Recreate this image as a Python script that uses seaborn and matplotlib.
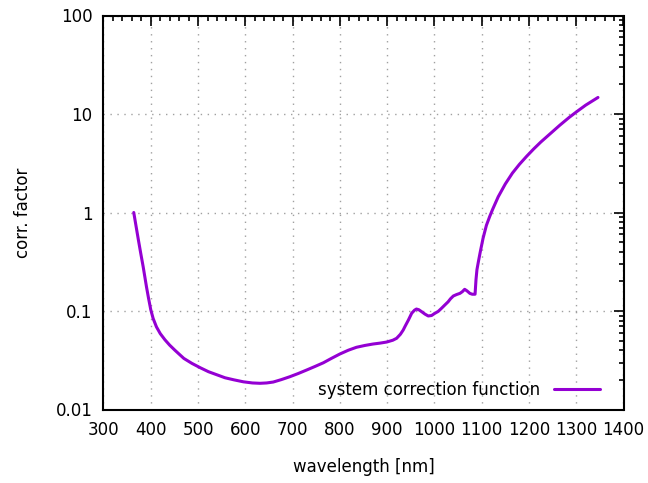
import matplotlib
matplotlib.use("Agg")
import matplotlib.pyplot as plt
import seaborn as sns
import pandas as pd
from matplotlib.ticker import MultipleLocator, LogLocator, FixedLocator, FuncFormatter, NullFormatter

wavelength = [364, 369, 374, 379, 384, 391, 395, 400, 405, 412, 420, 430, 440, 451, 460, 470,
              487, 505, 522, 540, 557, 576, 596, 615, 631, 645, 659, 676, 694, 712, 730, 747,
              765, 782, 800, 818, 835, 853, 870, 885, 899, 912, 920, 928, 934, 938, 945, 952,
              958, 962, 967, 973, 980, 987, 994, 1001, 1008, 1015, 1022, 1029, 1034, 1040, 1047,
              1054, 1059, 1064, 1069, 1075, 1080, 1086, 1088, 1090, 1093, 1097, 1103, 1110, 1117,
              1123, 1135, 1150, 1165, 1180, 1195, 1210, 1225, 1245, 1265, 1285, 1300, 1320, 1346]
corr_factor = [1.0, 0.72, 0.52, 0.38, 0.28, 0.175, 0.137, 0.103, 0.084, 0.069, 0.059, 0.051,
               0.045, 0.040, 0.0365, 0.033, 0.0294, 0.0265, 0.0242, 0.0225, 0.0210, 0.0200,
               0.0191, 0.0186, 0.01845, 0.0186, 0.0190, 0.0201, 0.0215, 0.0232, 0.0252, 0.0273,
               0.0298, 0.0330, 0.0366, 0.0400, 0.0428, 0.0447, 0.0462, 0.0472, 0.0484, 0.0505,
               0.0528, 0.058, 0.0641, 0.070, 0.081, 0.095, 0.102, 0.1047, 0.103, 0.0984, 0.093,
               0.089, 0.090, 0.0948, 0.099, 0.1065, 0.115, 0.124, 0.133, 0.142, 0.147, 0.151,
               0.157, 0.166, 0.160, 0.151, 0.148, 0.148, 0.209, 0.263, 0.316, 0.398, 0.550,
               0.741, 0.912, 1.072, 1.445, 1.950, 2.512, 3.090, 3.715, 4.416, 5.188, 6.31,
               7.674, 9.226, 10.47, 12.30, 14.72]
series_name = "system correction function"
x_ticks = [300, 400, 500, 600, 700, 800, 900, 1000, 1100, 1200, 1300, 1400]
y_ticks = [0.01, 0.1, 1, 10, 100]
y_tick_labels = ["0.01", "0.1", "1", "10", "100"]

df = pd.DataFrame({"wavelength": wavelength, "corr": corr_factor, "series": series_name})

sns.set_style("white")
plt.rcParams["font.family"] = ["DejaVu Sans"]
plt.rcParams["text.color"] = "black"
plt.rcParams["axes.labelcolor"] = "black"

fig = plt.figure(figsize=(6.48, 4.83), dpi=100)
ax = fig.add_axes([103.5 / 648, 1 - 409.5 / 483, 520 / 648, 394 / 483])

sns.lineplot(data=df, x="wavelength", y="corr", hue="series", palette=["#9400d3"],
             linewidth=2.2, ax=ax, sort=False)

ax.set_yscale("log")
ax.set_xlim(300, 1400)
ax.set_ylim(0.01, 100)

ax.xaxis.set_major_locator(FixedLocator(x_ticks))
ax.xaxis.set_minor_locator(MultipleLocator(20))
ax.yaxis.set_major_locator(FixedLocator(y_ticks))
ax.yaxis.set_major_formatter(FuncFormatter(
    lambda v, p: y_tick_labels[y_ticks.index(min(y_ticks, key=lambda t: abs(t - v)))]))
ax.yaxis.set_minor_locator(LogLocator(base=10, subs=range(2, 10)))
ax.yaxis.set_minor_formatter(NullFormatter())

ax.tick_params(which="both", direction="in", top=True, right=True, colors="black",
               labelcolor="black", labelsize=12, width=1.2)
ax.tick_params(which="major", length=7, pad=8)
ax.tick_params(which="minor", length=3.5)

for s in ax.spines.values():
    s.set_color("black")
    s.set_linewidth(1.5)

ax.grid(True, which="major", color="#a0a0a0", linestyle=(0, (1, 4)), linewidth=1.0)

ax.set_xlabel("wavelength [nm]", fontsize=12, labelpad=14, color="black")
ax.set_ylabel("corr. factor", fontsize=12, labelpad=17, color="black")

leg = ax.legend(loc="lower right", bbox_to_anchor=(0.975, 0.0), frameon=False,
                fontsize=12, markerfirst=False, handlelength=2.8, borderaxespad=0.22)
for t in leg.get_texts():
    t.set_color("black")
for line in leg.get_lines():
    line.set_linewidth(2.2)

fig.savefig("out.png", dpi=100)
